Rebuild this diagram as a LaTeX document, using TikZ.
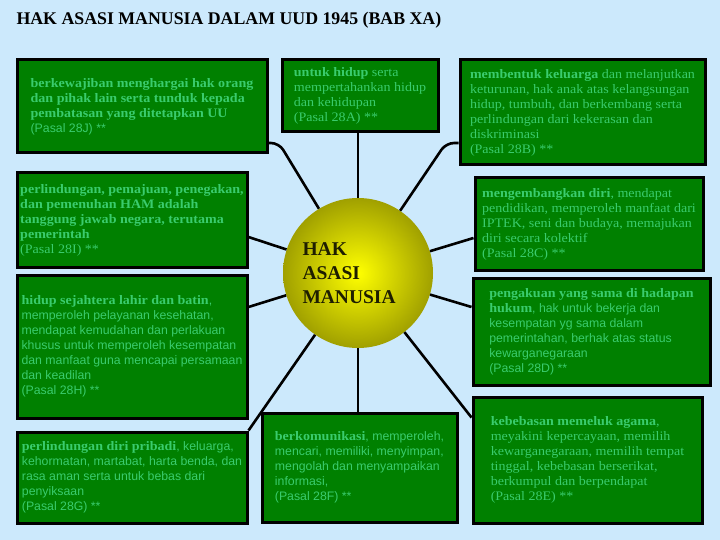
\documentclass[tikz,border=0pt]{standalone}
\usepackage{fontspec}
\usepackage{tikz}
\usetikzlibrary{positioning}
\usetikzlibrary{calc}
\usepackage{xcolor}

\newfontfamily\srffam[FakeStretch=1.08]{Liberation Serif}
\newfontfamily\snffam{Liberation Sans}
\newfontfamily\ttlfam{Liberation Serif}
\newcommand{\srf}{\srffam\fontsize{13}{15}\selectfont}
\newcommand{\snf}{\snffam\fontsize{12.3}{15}\selectfont}
\newcommand{\bfb}{\srffam\bfseries\fontsize{13}{15}\selectfont}

\definecolor{bgblue}{RGB}{204,233,252}
\definecolor{boxgreen}{RGB}{0,128,0}
\definecolor{txtgreen}{RGB}{58,204,110}
\definecolor{ballolive}{RGB}{160,160,0}
\definecolor{balltext}{RGB}{30,30,0}

\begin{document}
\begin{tikzpicture}[
  x=1pt, y=-1pt,
  hakbox/.style={draw=black, line width=3pt, fill=boxgreen, text=txtgreen,
    align=left, inner sep=3pt},
  conn/.style={draw=black, line width=2.6pt},
  ball/.style={circle, minimum size=150pt, inner color=yellow, outer color=ballolive,
    text=balltext, text width=111pt, align=left,
    font=\ttlfam\bfseries\fontsize{19.5}{24}\selectfont}
]
% Background
\fill[bgblue] (0,0) rectangle (720,540);
\node[anchor=base west, font=\ttlfam\bfseries\fontsize{17.8}{20}\selectfont] (title) at (13,25)
  {HAK ASASI MANUSIA DALAM UUD 1945 (BAB XA)};

% Center
\node[ball] (hak) at (358,273) {HAK\\ASASI\\MANUSIA};

% Left column
\node[hakbox, minimum width=250pt, minimum height=93pt, font=\snf] (b28J) at (142,106.5)
  {{\bfb berkewajiban menghargai hak orang}\\{\bfb dan pihak lain serta tunduk kepada}\\{\bfb pembatasan yang ditetapkan UU}\\(Pasal 28J) **};
\node[hakbox, minimum width=230pt, minimum height=94pt, font=\srf] (b28I) at (132,220)
  {{\bfb perlindungan, pemajuan, penegakan,}\\{\bfb dan pemenuhan HAM adalah}\\{\bfb tanggung jawab negara, terutama}\\{\bfb pemerintah}\\(Pasal 28I) **};
\node[hakbox, minimum width=230pt, minimum height=143pt, font=\snf] (b28H) at (132,346.5)
  {{\bfb hidup sejahtera lahir dan batin},\\memperoleh pelayanan kesehatan,\\mendapat kemudahan dan perlakuan\\khusus untuk memperoleh kesempatan\\dan manfaat guna mencapai persamaan\\dan keadilan\\(Pasal 28H) **};
\node[hakbox, minimum width=230pt, minimum height=91pt, font=\snf] (b28G) at (132,477.5)
  {{\bfb perlindungan diri pribadi}, keluarga,\\kehormatan, martabat, harta benda, dan\\rasa aman serta untuk bebas dari\\penyiksaan\\(Pasal 28G) **};

% Middle column
\node[hakbox, minimum width=156pt, minimum height=72pt, font=\srf] (b28A) at (360,96)
  {{\bfb untuk hidup} serta\\mempertahankan hidup\\dan kehidupan\\(Pasal 28A) **};
\node[hakbox, minimum width=195pt, minimum height=109pt, font=\snf] (b28F) at (359.5,467.5)
  {{\bfb berkomunikasi}, memperoleh,\\mencari, memiliki, menyimpan,\\mengolah dan menyampaikan\\informasi,\\(Pasal 28F) **};

% Right column
\node[hakbox, minimum width=245pt, minimum height=105pt, font=\srf] (b28B) at (582.5,112.5)
  {{\bfb membentuk keluarga} dan melanjutkan\\keturunan, hak anak atas kelangsungan\\hidup, tumbuh, dan berkembang serta\\perlindungan dari kekerasan dan\\diskriminasi\\(Pasal 28B) **};
\node[hakbox, minimum width=228pt, minimum height=92pt, font=\srf] (b28C) at (589,224)
  {{\bfb mengembangkan diri}, mendapat\\pendidikan, memperoleh manfaat dari\\IPTEK, seni dan budaya, memajukan\\diri secara kolektif\\(Pasal 28C) **};
\node[hakbox, minimum width=237pt, minimum height=107pt, font=\snf] (b28D) at (591.5,331.5)
  {{\bfb pengakuan yang sama di hadapan}\\{\bfb hukum}, hak untuk bekerja dan\\kesempatan yg sama dalam\\pemerintahan, berhak atas status\\kewarganegaraan\\(Pasal 28D) **};
\node[hakbox, minimum width=229pt, minimum height=126pt, font=\srf] (b28E) at (587.5,460)
  {{\bfb kebebasan memeluk agama},\\meyakini kepercayaan, memilih\\kewarganegaraan, memilih tempat\\tinggal, kebebasan berserikat,\\berkumpul dan berpendapat\\(Pasal 28E) **};

% Connectors
\coordinate (kJ) at (279,143);
\coordinate (kB) at (446,143);
\draw[conn, rounded corners=8pt] (hak) -- (kJ) -- (kJ -| b28J.east);
\draw[conn, rounded corners=8pt] (hak) -- (kB) -- (kB -| b28B.west);
\draw[conn] (hak) -- (hak |- b28A.south);
\draw[conn] (hak) -- (hak |- b28F.north);
\draw[conn] (hak) -- ([yshift=-17pt]b28I.east);
\draw[conn] (hak) -- ([yshift=39.5pt]b28H.east);
\draw[conn] (hak) -- (b28G.north east);
\draw[conn] (hak) -- ([yshift=-22pt]b28E.north west);
\draw[conn] (hak) -- ([yshift=24.5pt]b28D.west);
\draw[conn] (hak) -- ([yshift=-14pt]b28C.west);

\end{tikzpicture}
\end{document}
